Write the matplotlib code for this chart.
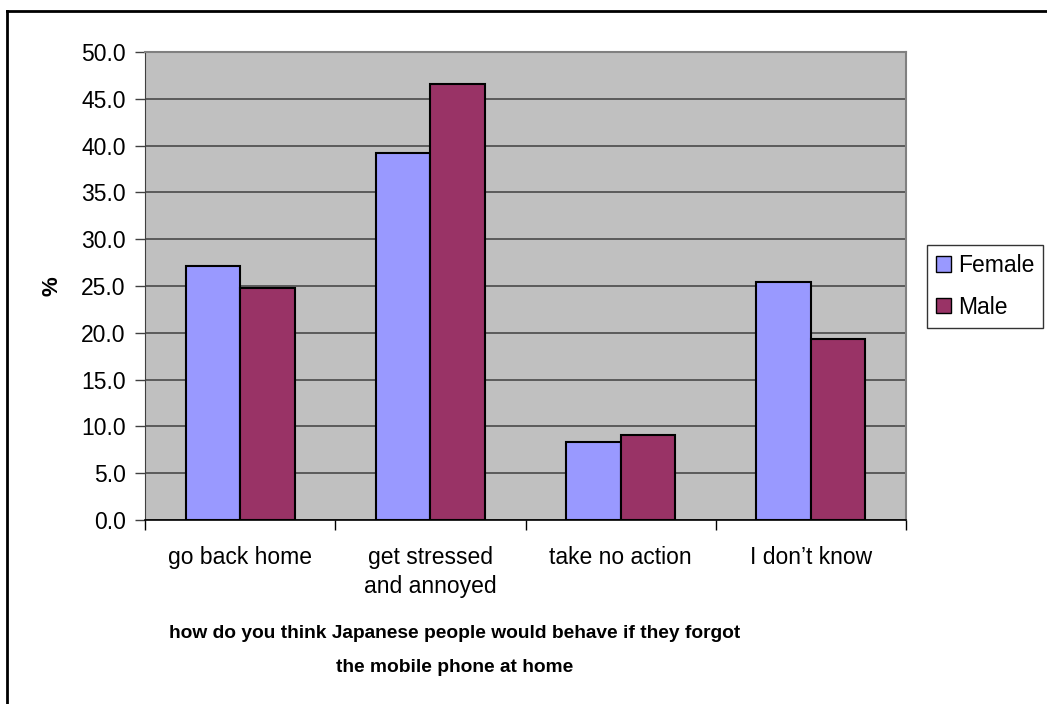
import numpy as np
import matplotlib
matplotlib.use("Agg")
import matplotlib.pyplot as plt
from matplotlib.patches import Patch
from matplotlib.lines import Line2D

plt.rcParams["font.family"] = ["Liberation Sans", "DejaVu Sans"]

categories = ["go back home", "get stressed\nand annoyed", "take no action", "I don\u2019t know"]
female = [27.1, 39.2, 8.3, 25.4]
male = [24.8, 46.6, 9.1, 19.3]
yticks = np.arange(0, 50.1, 5)

FEMALE_COLOR = "#9999FF"
MALE_COLOR = "#993366"
PLOT_BG = "#C0C0C0"

fig = plt.figure(figsize=(10.47, 7.04), dpi=100)
ax = fig.add_axes([145 / 1047, 1 - 520 / 704, (906 - 145) / 1047, (520 - 52) / 704])
ax.set_facecolor(PLOT_BG)

x = np.arange(len(categories))
w = 0.286
ax.bar(x - w / 2, female, w, color=FEMALE_COLOR, edgecolor="black", linewidth=1.5, zorder=3, label="Female")
ax.bar(x + w / 2, male, w, color=MALE_COLOR, edgecolor="black", linewidth=1.5, zorder=3, label="Male")

ax.set_xlim(-0.5, len(categories) - 0.5)
ax.set_ylim(0, 50)

# gridlines every 5 %
ax.set_yticks(yticks)
ax.set_yticklabels([f"{v:.1f}" for v in yticks], fontsize=16.5)
ax.yaxis.grid(True, color="#4a4a4a", linewidth=1.2, zorder=1)
ax.set_axisbelow(True)
ax.tick_params(axis="y", direction="out", length=7, width=1, color="#404040", pad=7)

# tick marks between categories, labels centred under each group
ax.set_xticks(np.arange(-0.5, len(categories), 1.0))
ax.set_xticklabels([])
ax.tick_params(axis="x", which="major", direction="out", length=7, width=1, color="black")
ax.set_xticks(x, minor=True)
ax.set_xticklabels(categories, minor=True, fontsize=16.5, linespacing=1.3, va="top")
ax.tick_params(axis="x", which="minor", length=0, pad=19)

for side in ["top", "right"]:
    ax.spines[side].set_color("#808080")
    ax.spines[side].set_linewidth(1.5)
ax.spines["left"].set_color("#404040")
ax.spines["bottom"].set_color("black")
ax.spines["bottom"].set_linewidth(1.2)

ax.set_ylabel("%", fontsize=16, fontweight="bold", labelpad=13)

fig.text(455 / 1047, 1 - 634 / 704,
         "how do you think Japanese people would behave if they forgot",
         ha="center", va="center", fontsize=13.8, fontweight="bold")
fig.text(455 / 1047, 1 - 667 / 704, "the mobile phone at home",
         ha="center", va="center", fontsize=13.8, fontweight="bold")

handles = [Patch(facecolor=FEMALE_COLOR, edgecolor="black", label="Female"),
           Patch(facecolor=MALE_COLOR, edgecolor="black", label="Male")]
leg = fig.legend(handles=handles, loc="upper left", bbox_to_anchor=(927 / 1047, 1 - 245 / 704),
                 fontsize=16.5, frameon=True, fancybox=False, handlelength=0.65, handleheight=0.65,
                 handletextpad=0.3, borderpad=0.4, labelspacing=0.8, borderaxespad=0)
leg.get_frame().set_edgecolor("black")
leg.get_frame().set_linewidth(1.0)

# chart frame: only top and left edges are inside the canvas
fig.add_artist(Line2D([7 / 1047, 7 / 1047], [0, 1 - 11 / 704], transform=fig.transFigure,
                      color="black", linewidth=2))
fig.add_artist(Line2D([7 / 1047, 1], [1 - 11 / 704, 1 - 11 / 704], transform=fig.transFigure,
                      color="black", linewidth=2))

fig.savefig("out.png", dpi=100)
